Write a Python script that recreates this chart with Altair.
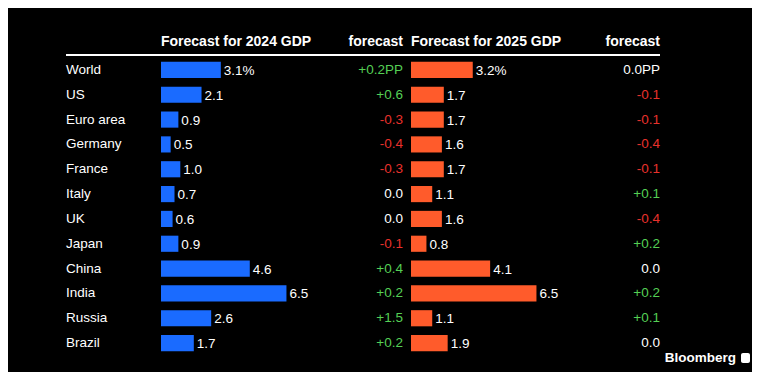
import altair as alt
import pandas as pd

countries = ["World", "US", "Euro area", "Germany", "France", "Italy", "UK",
             "Japan", "China", "India", "Russia", "Brazil"]
gdp_2024 = [3.1, 2.1, 0.9, 0.5, 1.0, 0.7, 0.6, 0.9, 4.6, 6.5, 2.6, 1.7]
chg_2024 = [0.2, 0.6, -0.3, -0.4, -0.3, 0.0, 0.0, -0.1, 0.4, 0.2, 1.5, 0.2]
gdp_2025 = [3.2, 1.7, 1.7, 1.6, 1.7, 1.1, 1.6, 0.8, 4.1, 6.5, 1.1, 1.9]
chg_2025 = [0.0, -0.1, -0.1, -0.4, -0.1, 0.1, -0.4, 0.2, 0.0, 0.2, 0.1, 0.0]

headers = ["Forecast for 2024 GDP", "forecast", "Forecast for 2025 GDP", "forecast"]

BLUE = "#1a6bff"
ORANGE = "#ff5b2b"
GREEN = "#55cf55"
RED = "#e8312c"
WHITE = "#ffffff"
FONT = "Liberation Sans"


def fmt_val(v, i):
    return f"{v:.1f}%" if i == 0 else f"{v:.1f}"


def fmt_chg(v, i):
    s = "0.0" if v == 0 else f"{v:+.1f}"
    return s + ("PP" if i == 0 else "")


def sign(v):
    return "pos" if v > 0 else ("neg" if v < 0 else "zero")


df = pd.DataFrame({
    "country": countries,
    "g24": gdp_2024,
    "g25": gdp_2025,
    "lab24": [fmt_val(v, i) for i, v in enumerate(gdp_2024)],
    "lab25": [fmt_val(v, i) for i, v in enumerate(gdp_2025)],
    "ct24": [fmt_chg(v, i) for i, v in enumerate(chg_2024)],
    "ct25": [fmt_chg(v, i) for i, v in enumerate(chg_2025)],
    "s24": [sign(v) for v in chg_2024],
    "s25": [sign(v) for v in chg_2025],
})

base = alt.Chart(df)

y_enc = alt.Y("country:N", sort=countries, axis=None,
              scale=alt.Scale(range=[49.5, 347.5], paddingInner=0.35, paddingOuter=0.175))

x24 = alt.Scale(domain=[0, 10], range=[153, 346], nice=False)
x25 = alt.Scale(domain=[0, 10], range=[403, 596], nice=False)

color_scale = alt.Scale(domain=["pos", "neg", "zero"], range=[GREEN, RED, WHITE])

country_txt = base.mark_text(align="left", baseline="middle", font=FONT, fontSize=13.5,
                             color=WHITE).encode(
    x=alt.value(58), y=y_enc, text="country:N")

bars24 = base.mark_bar(color=BLUE).encode(
    x=alt.X("g24:Q", scale=x24, axis=None), y=y_enc)
lab24 = base.mark_text(align="left", baseline="middle", dx=3, dy=1, font=FONT, fontSize=13.5,
                       color=WHITE).encode(
    x=alt.X("g24:Q", scale=x24, axis=None), y=y_enc, text="lab24:N")
chg24 = base.mark_text(align="right", baseline="middle", font=FONT, fontSize=13.5).encode(
    x=alt.value(395), y=y_enc, text="ct24:N",
    color=alt.Color("s24:N", scale=color_scale, legend=None))

bars25 = base.mark_bar(color=ORANGE).encode(
    x=alt.X("g25:Q", scale=x25, axis=None), y=y_enc)
lab25 = base.mark_text(align="left", baseline="middle", dx=3, dy=1, font=FONT, fontSize=13.5,
                       color=WHITE).encode(
    x=alt.X("g25:Q", scale=x25, axis=None), y=y_enc, text="lab25:N")
chg25 = base.mark_text(align="right", baseline="middle", font=FONT, fontSize=13.5).encode(
    x=alt.value(652), y=y_enc, text="ct25:N",
    color=alt.Color("s25:N", scale=color_scale, legend=None))

hdr = pd.DataFrame({"h": headers})
HFS = 14
h1 = alt.Chart(hdr).transform_filter(alt.datum.h == headers[0]).mark_text(
    align="left", baseline="middle", font=FONT, fontSize=HFS, fontWeight="bold", color=WHITE
).encode(x=alt.value(153), y=alt.value(34), text="h:N")
h2 = alt.Chart(pd.DataFrame({"h": [headers[1]]})).mark_text(
    align="right", baseline="middle", font=FONT, fontSize=HFS, fontWeight="bold", color=WHITE
).encode(x=alt.value(395), y=alt.value(34), text="h:N")
h3 = alt.Chart(hdr).transform_filter(alt.datum.h == headers[2]).mark_text(
    align="left", baseline="middle", font=FONT, fontSize=HFS, fontWeight="bold", color=WHITE
).encode(x=alt.value(403), y=alt.value(34), text="h:N")
h4 = alt.Chart(pd.DataFrame({"h": [headers[3]]})).mark_text(
    align="right", baseline="middle", font=FONT, fontSize=HFS, fontWeight="bold", color=WHITE
).encode(x=alt.value(652), y=alt.value(34), text="h:N")

rule = alt.Chart(pd.DataFrame({"a": [0]})).mark_rule(color=WHITE, strokeWidth=2).encode(
    x=alt.value(58), x2=alt.value(652), y=alt.value(47))

brand = alt.Chart(pd.DataFrame({"b": ["Bloomberg"]})).mark_text(
    align="right", baseline="middle", font=FONT, fontSize=13.5, fontWeight="bold", color=WHITE
).encode(x=alt.value(728), y=alt.value(350), text="b:N")
icon = alt.Chart(pd.DataFrame({"a": [0]})).mark_rect(color=WHITE, cornerRadius=2).encode(
    x=alt.value(733), x2=alt.value(742), y=alt.value(345), y2=alt.value(355))

chart = alt.layer(
    rule, h1, h2, h3, h4, country_txt, bars24, lab24, chg24, bars25, lab25, chg25, brand, icon
).resolve_scale(x="independent").properties(
    width=744, height=364, background="#000000", padding=0,
    autosize=alt.AutoSizeParams(type="none")
).configure_view(stroke=None)

chart.save("out.html", embed_options={"renderer": "svg", "actions": False})
